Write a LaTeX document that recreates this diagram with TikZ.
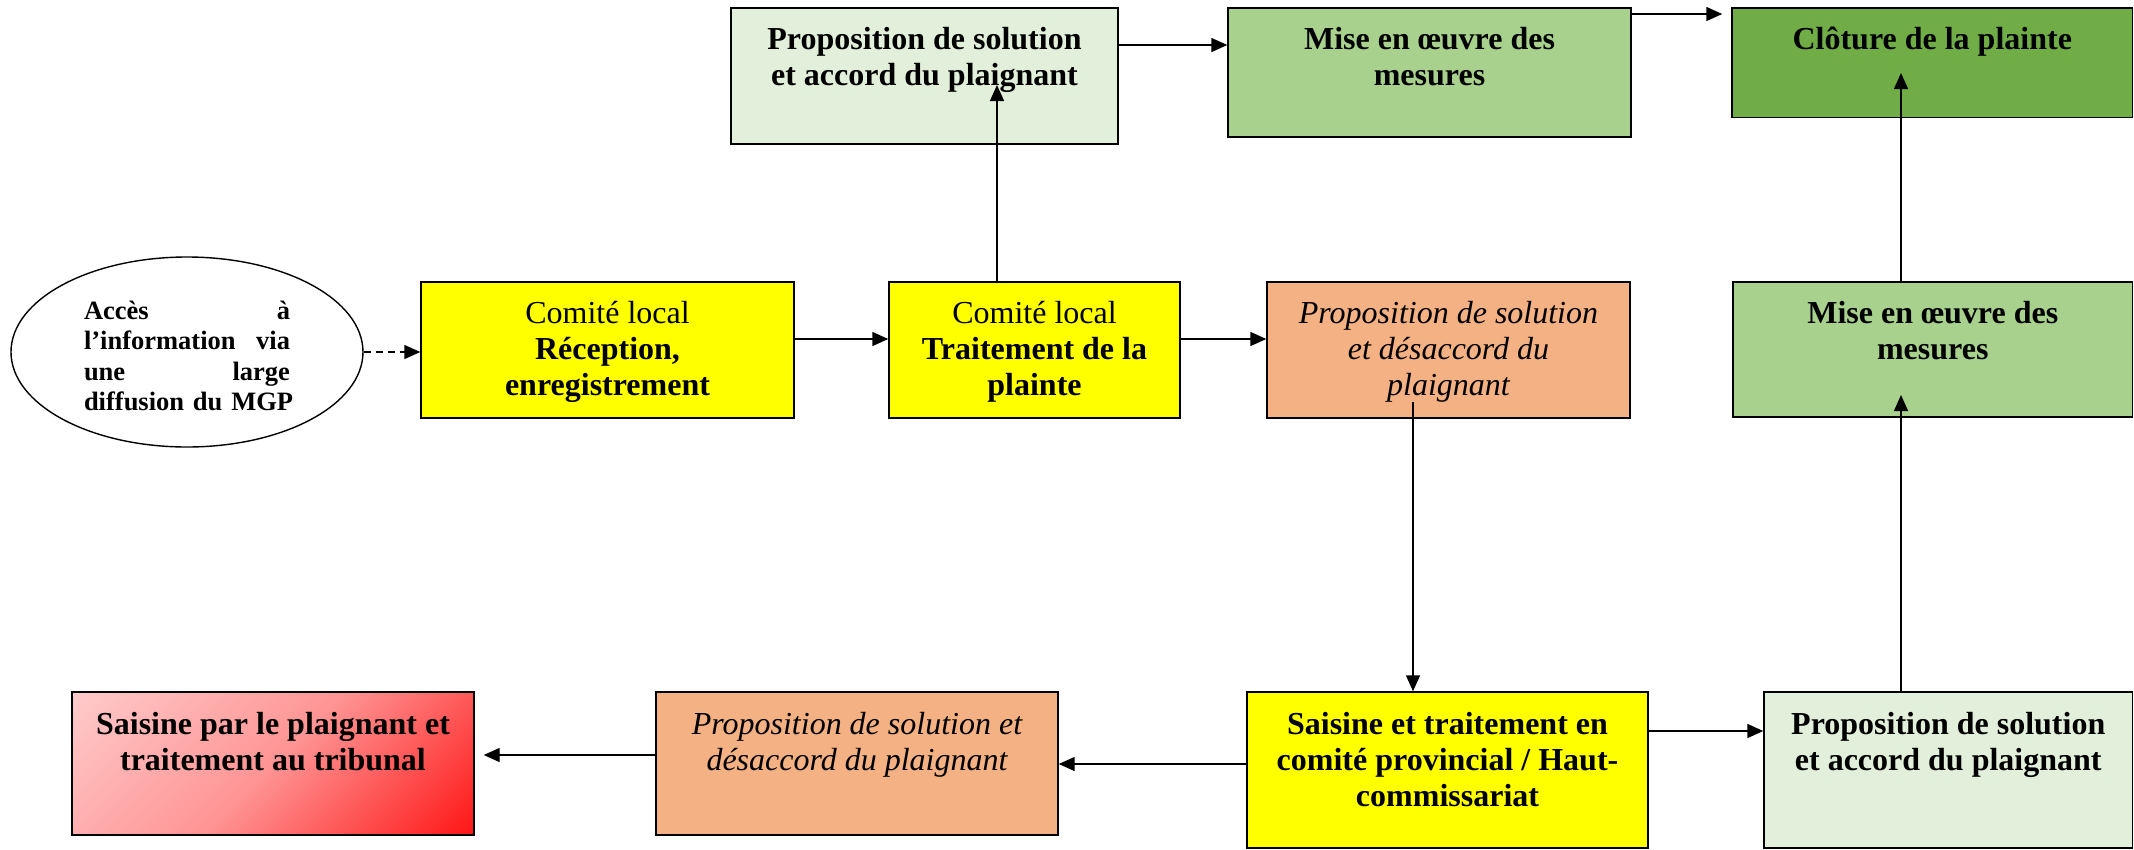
\documentclass[tikz,border=0pt]{standalone}
\usepackage{fontspec}
\setmainfont{Liberation Serif}
\usetikzlibrary{arrows.meta,shapes.geometric,calc}
\definecolor{ylw}{HTML}{FFFF00}
\definecolor{accordc}{HTML}{E2EFDA}
\definecolor{misec}{HTML}{A9D18E}
\definecolor{clotc}{HTML}{70AD47}
\definecolor{desc}{HTML}{F4B183}
\definecolor{pinkl}{HTML}{FFCDCD}
\definecolor{pinkm}{HTML}{FF9494}
\definecolor{redd}{HTML}{FF1010}
\newcommand\mystrut{\rule{0pt}{24pt}}
\newcommand\eline[1]{\leavevmode\hbox to 206pt{#1}}
\begin{document}
\begin{tikzpicture}[x=1pt,y=-1pt,
  box/.style={draw=black,line width=1.4pt,inner sep=0pt,rectangle},
  txt/.style={anchor=north,inner sep=0pt,align=center,font=\fontsize{32}{36}\selectfont},
  arr/.style={line width=1.4pt,-{Triangle[length=16pt,width=14pt]}},
]
\useasboundingbox (0,0) rectangle (2134,849);

% ellipse
\node[draw,ellipse,line width=1.4pt,minimum width=352pt,minimum height=190pt,inner sep=0pt] (E) at (187,352) {};
\node[inner sep=0pt,text width=206pt,align=left,font=\fontsize{26.5}{30.5}\selectfont\bfseries] (Et) at ([yshift=-4pt]E.center)
  {\eline{Accès\hfil à}\\\eline{l’information\hfil via}\\\eline{une\hfil large}\\\eline{diffusion du MGP\hfil}};

% middle row
\node[box,fill=ylw,minimum width=373pt,minimum height=136pt] (R) at (607.5,350) {};
\node[box,fill=ylw,minimum width=291pt,minimum height=136pt] (T) at (1034.5,350) {};
\node[box,fill=desc,minimum width=363pt,minimum height=136pt] (D1) at (1448.5,350) {};
\node[box,fill=misec,minimum width=399.5pt,minimum height=135pt] (M2) at (1932.75,349.5) {};

% top row
\node[box,fill=accordc,minimum width=387pt,minimum height=136pt] (A1) at (924.5,76) {};
\node[box,fill=misec,minimum width=403pt,minimum height=129pt] (M1) at (1429.5,72.5) {};
\node[box,fill=clotc,minimum width=400.5pt,minimum height=109.5pt] (C) at (1932.25,62.75) {};

% bottom row
\node[box,fill=ylw,minimum width=401pt,minimum height=156pt] (S) at (1447.5,770) {};
\node[box,fill=accordc,minimum width=368.5pt,minimum height=156pt] (A2) at (1948.25,770) {};
\node[box,fill=desc,minimum width=402pt,minimum height=143pt] (D2) at (857,763.5) {};

% tribunal box with diagonal gradient
\coordinate (trc) at (273,763.5);
\begin{scope}
  \clip ([shift={(-201,-71.5)}]trc) rectangle ([shift={(201,71.5)}]trc);
  \shade[top color=pinkl,bottom color=redd,middle color=pinkm,shading angle=45]
    ([shift={(-202,-202)}]trc) rectangle ([shift={(202,202)}]trc);
\end{scope}
\node[box,minimum width=402pt,minimum height=143pt] (Tr) at (trc) {};

% texts
\node[txt] (Rt) at ([yshift=-18pt]R.north) {\mystrut Comité local\\\textbf{Réception,}\\\textbf{enregistrement}};
\node[txt] (Tt) at ([yshift=-18pt]T.north) {\mystrut Comité local\\\textbf{Traitement de la}\\\textbf{plainte}};
\node[txt,font=\fontsize{32}{36}\selectfont\itshape] (D1t) at ([yshift=-18pt]D1.north) {\mystrut Proposition de solution\\et désaccord du\\plaignant};
\node[txt,font=\fontsize{32}{36}\selectfont\bfseries] (M2t) at ([yshift=-18pt]M2.north) {\mystrut Mise en œuvre des\\mesures};
\node[txt,font=\fontsize{32}{36}\selectfont\bfseries] (A1t) at ([yshift=-18pt]A1.north) {\mystrut Proposition de solution\\et accord du plaignant};
\node[txt,font=\fontsize{32}{36}\selectfont\bfseries] (M1t) at ([yshift=-18pt]M1.north) {\mystrut Mise en œuvre des\\mesures};
\node[txt,font=\fontsize{32}{36}\selectfont\bfseries] (Ct) at ([yshift=-18pt]C.north) {\mystrut Clôture de la plainte};
\node[txt,font=\fontsize{32}{36}\selectfont\bfseries] (St) at ([yshift=-19pt]S.north) {\mystrut Saisine et traitement en\\comité provincial / Haut-\\commissariat};
\node[txt,font=\fontsize{32}{36}\selectfont\bfseries] (A2t) at ([yshift=-19pt]A2.north) {\mystrut Proposition de solution\\et accord du plaignant};
\node[txt,font=\fontsize{32}{36}\selectfont\itshape] (D2t) at ([yshift=-19pt]D2.north) {\mystrut Proposition de solution et\\désaccord du plaignant};
\node[txt,font=\fontsize{32}{36}\selectfont\bfseries] (Trt) at ([yshift=-19pt]Tr.north) {\mystrut Saisine par le plaignant et\\traitement au tribunal};

% inner arrow ends
\coordinate (a1in) at (997,85);
\coordinate (cin) at (1901,73);
\coordinate (m2in) at (1901,395);
\coordinate (d1in) at (1413,402);

% connectors
\draw[arr,dash pattern=on 7pt off 5pt] (E.east) -- (E.east -| R.west);
\draw[arr] ([yshift=11pt]R.east) -- ([yshift=11pt]R.east -| T.west);
\draw[arr] ([yshift=11pt]T.east) -- ([yshift=11pt]T.east -| D1.west);
\draw[arr] (T.north -| a1in) -- (a1in);
\draw[arr] ([yshift=31pt]A1.east) -- ([yshift=31pt]A1.east -| M1.west);
\draw[arr,shorten >=9pt] ([yshift=58.5pt]M1.east) -- ([yshift=58.5pt]M1.east -| C.west);
\draw[arr] (M2.north -| cin) -- (cin);
\draw[arr] (A2.north -| m2in) -- (m2in);
\draw[arr] (d1in) -- (d1in |- S.north);
\draw[arr] ([yshift=39pt]S.east) -- ([yshift=39pt]S.east -| A2.west);
\draw[arr] ([yshift=6pt]S.west) -- ([yshift=6pt]S.west -| D2.east);
\draw[arr,shorten >=9pt] ([yshift=8.5pt]D2.west) -- ([yshift=8.5pt]D2.west -| Tr.east);
\end{tikzpicture}
\end{document}
